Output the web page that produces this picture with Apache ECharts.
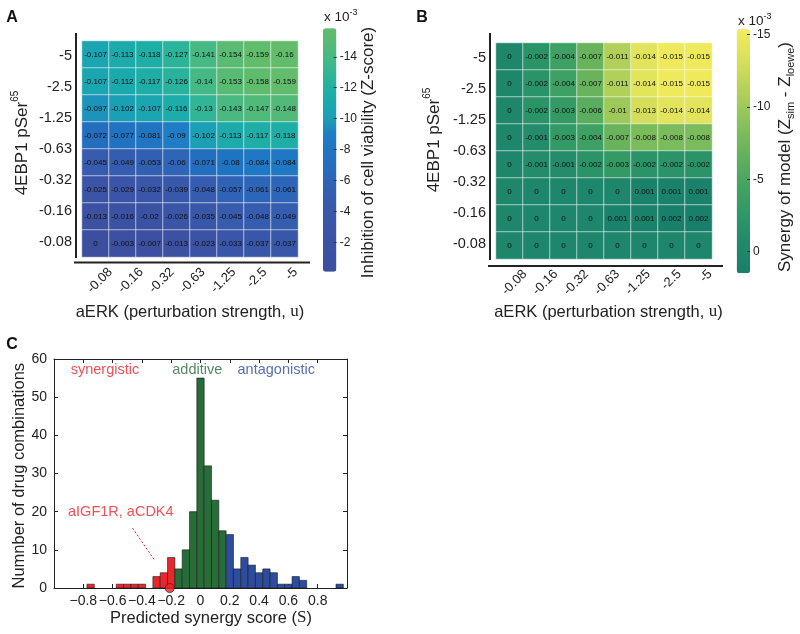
<!DOCTYPE html>
<html><head><meta charset="utf-8">
<script src="https://cdn.jsdelivr.net/npm/echarts@6/dist/echarts.min.js"></script>
<style>html,body{margin:0;padding:0;background:#fff}#c{width:800px;height:634px}</style>
</head><body><div id="c"></div>
<script>
// ---------------- data ----------------
const tickLabels = ['-0.08', '-0.16', '-0.32', '-0.63', '-1.25', '-2.5', '-5'];
const cellIndex = ['1', '2', '3', '4', '5', '6', '7', '8'];

// rows top (-5) to bottom (-0.08), columns left to right
const viabilityRows = [
  [-0.107, -0.113, -0.118, -0.127, -0.141, -0.154, -0.159, -0.16],
  [-0.107, -0.112, -0.117, -0.126, -0.14, -0.153, -0.158, -0.159],
  [-0.097, -0.102, -0.107, -0.116, -0.13, -0.143, -0.147, -0.148],
  [-0.072, -0.077, -0.081, -0.09, -0.102, -0.113, -0.117, -0.118],
  [-0.045, -0.049, -0.053, -0.06, -0.071, -0.08, -0.084, -0.084],
  [-0.025, -0.029, -0.032, -0.039, -0.048, -0.057, -0.061, -0.061],
  [-0.013, -0.016, -0.02, -0.026, -0.035, -0.045, -0.048, -0.049],
  [0, -0.003, -0.007, -0.013, -0.023, -0.033, -0.037, -0.037]
];
const synergyRows = [
  [0, -0.002, -0.004, -0.007, -0.011, -0.014, -0.015, -0.015],
  [0, -0.002, -0.004, -0.007, -0.011, -0.014, -0.015, -0.015],
  [0, -0.002, -0.003, -0.006, -0.01, -0.013, -0.014, -0.014],
  [0, -0.001, -0.003, -0.004, -0.007, -0.008, -0.008, -0.008],
  [0, -0.001, -0.001, -0.002, -0.003, -0.002, -0.002, -0.002],
  [0, 0, 0, 0, 0, 0.001, 0.001, 0.001],
  [0, 0, 0, 0, 0.001, 0.001, 0.002, 0.002],
  [0, 0, 0, 0, 0, 0, 0, 0]
];
// colour-bar scales (x 10^-3)
const cbARange = [-15.84, -0.1];
const cbBRange = [-15.35, 1.49];

const binWidth = 0.05;
const synergisticCenters = [-0.75, -0.55, -0.5, -0.45, -0.4, -0.3, -0.25, -0.2];
const synergisticCounts  = [1, 1, 1, 1, 1, 3, 4, 8];
const additiveCenters = [-0.15, -0.1, -0.05, 0, 0.05, 0.1, 0.15];
const additiveCounts  = [5, 10, 20, 55, 32, 23, 15];
const antagonisticCenters = [0.2, 0.25, 0.3, 0.35, 0.4, 0.45, 0.5, 0.55, 0.6, 0.65, 0.7, 0.95];
const antagonisticCounts  = [14, 5, 8, 6, 4, 5, 4, 1, 1, 3, 2, 1];
const highlightPoint = [-0.21, 0];
const highlightLeader = [[-0.464, 15.7], [-0.311, 7.15]];

// ---------------- styling ----------------
const FONT = "'Liberation Sans', Arial, Helvetica, sans-serif";
const SERIF = "'Liberation Serif', 'Times New Roman', serif";
const INK = '#222';
const RED = '#e8262b', GREEN = '#276d37', BLUE = '#2d4b9f';
const colorsA = ['#62bc6b','#55ba76','#45b985','#30b596','#1fb0a4','#1aa8ae','#1b9db6','#1e7dc4',
                 '#1f74c2','#256dbe','#2e65b7','#355db0','#3858aa','#3a55a7','#3b52a4','#3c50a1','#3d4e9f'];
const colorsB = ['#f3ec5c','#d8e05a','#b3d159','#8cc25a','#68b35c','#48a562','#309867','#21896b','#18806a'];

function heatData(rows) {
  const d = [];
  rows.forEach((r, ri) => r.forEach((v, ci) => d.push([ci, ri, v])));
  return d;
}
function pairs(xs, ys) { return xs.map((x, i) => [x, ys[i]]); }

const hiddenCat = (grid, inverse) => ({type: 'category', gridIndex: grid, data: cellIndex, show: false, inverse: !!inverse});
const hiddenVal = (grid) => ({type: 'value', gridIndex: grid, show: false, min: 0, max: 1});

function histSeries(centers, counts, color) {
  return {
    type: 'custom', xAxisIndex: 6, yAxisIndex: 8, z: 3,
    data: pairs(centers, counts),
    encode: {x: 0, y: 1},
    renderItem: (params, api) => {
      const c = api.value(0), n = api.value(1);
      const p0 = api.coord([c - binWidth / 2, n]);
      const p1 = api.coord([c + binWidth / 2, 0]);
      return {type: 'rect', shape: {x: p0[0], y: p0[1], width: p1[0] - p0[0], height: p1[1] - p0[1]},
              style: {fill: color, stroke: '#1a1a1a', lineWidth: 0.6}};
    }
  };
}

const heatLabel = {show: true, fontSize: 8, color: '#111', fontFamily: FONT, formatter: p => String(p.value[2])};
const cellBorder = {borderColor: 'rgba(255,255,255,0.55)', borderWidth: 1};

const catLabelX = (grid) => ({
  type: 'category', gridIndex: grid, data: tickLabels, boundaryGap: true,
  axisLine: {show: false}, axisTick: {show: false}, splitLine: {show: false},
  axisLabel: {interval: 0, rotate: 45, margin: 13, fontSize: 13, color: INK, fontFamily: FONT}
});
const catLabelY = (grid) => ({
  type: 'category', gridIndex: grid, data: tickLabels, boundaryGap: true, position: 'left',
  axisLine: {show: false}, axisTick: {show: false}, splitLine: {show: false},
  axisLabel: {interval: 0, margin: 10, fontSize: 14.5, color: INK, fontFamily: FONT}
});
// colour-bar axis: a 3px-wide grid on the bar's right edge; its split lines act as the inward ticks
const cbAxis = (grid, range, splitNumber) => ({
  type: 'value', gridIndex: grid, position: 'right', min: range[0], max: range[1], inverse: true, z: 10,
  splitNumber: splitNumber,
  axisLine: {show: false}, axisTick: {show: false},
  splitLine: {show: true, showMinLine: false, showMaxLine: false, lineStyle: {color: '#333', width: 1}},
  axisLabel: {margin: 3, fontSize: 12, color: INK, fontFamily: FONT, showMinLabel: false, showMaxLabel: false,
              formatter: v => (Math.abs(v - Math.round(v)) > 1e-6 ? '' : String(Math.round(v)))}
});

const cMinus = v => {
  if (Math.abs(v) > 0.95) return '';
  const r = Math.round(v * 10) / 10;
  if (r === 0) return '0';
  return (r < 0 ? '\u2212' : '') + Math.abs(r).toFixed(1);
};

const rot = Math.PI / 2;
function txt(x, y, text, opts) {
  opts = opts || {};
  return {
    type: 'text', x: x, y: y, rotation: opts.rotation || 0, z: 20,
    style: {
      text: text, fill: opts.fill || INK, fontSize: opts.fontSize || 16, fontFamily: FONT,
      fontWeight: opts.fontWeight || 'normal', align: opts.align || 'center', verticalAlign: 'middle',
      rich: opts.rich
    }
  };
}
const line = (x1, y1, x2, y2) => ({type: 'line', z: 20, shape: {x1, y1, x2, y2}, style: {stroke: '#222', lineWidth: 2}});

const boxAxis = (pos, extra) => Object.assign({
  type: 'value', gridIndex: 6, position: pos,
  axisLine: {show: true, onZero: false, lineStyle: {color: INK, width: 1}},
  axisTick: {show: true, inside: true, length: 4, lineStyle: {color: INK}},
  splitLine: {show: false}
}, extra);

const option = {
  animation: false,
  textStyle: {fontFamily: FONT},
  grid: [
    {left: 82, top: 41, width: 216, height: 216},
    {left: 95, top: 41, width: 216, height: 216},
    {left: 333.7, top: 28.3, width: 3, height: 243.4, z: 10},
    {left: 496, top: 43, width: 216, height: 216},
    {left: 509.5, top: 43, width: 216, height: 216},
    {left: 747, top: 29.3, width: 3, height: 244, z: 10},
    {left: 54, top: 359, width: 293, height: 229}
  ],
  xAxis: [
    hiddenCat(0),
    catLabelX(1),
    hiddenVal(2),
    hiddenCat(3),
    catLabelX(4),
    hiddenVal(5),
    boxAxis('bottom', {min: -1, max: 1, interval: 0.2,
      axisLabel: {margin: 6, fontSize: 14, color: INK, fontFamily: FONT, formatter: cMinus}}),
    boxAxis('top', {min: -1, max: 1, interval: 0.2, axisLabel: {show: false}})
  ],
  yAxis: [
    hiddenCat(0, true),
    catLabelY(0),
    hiddenVal(1),
    cbAxis(2, cbARange, 8),
    hiddenCat(3, true),
    catLabelY(3),
    hiddenVal(4),
    cbAxis(5, cbBRange, 4),
    boxAxis('left', {min: 0, max: 60, interval: 10,
      axisLabel: {margin: 7, fontSize: 14, color: INK, fontFamily: FONT}}),
    boxAxis('right', {min: 0, max: 60, interval: 10, axisLabel: {show: false}})
  ],
  visualMap: [
    {type: 'continuous', seriesIndex: 0, dimension: 2, min: -0.16, max: 0, inverse: true, orient: 'vertical',
     left: 323, top: 28.3, itemWidth: 13.4, itemHeight: 243.4, padding: 0, calculable: false, hoverLink: false, z: 2,
     inRange: {color: colorsA}},
    {type: 'continuous', seriesIndex: 1, dimension: 2, min: -0.01535, max: 0.00149, inverse: true, orient: 'vertical',
     left: 736.7, top: 29.3, itemWidth: 13.3, itemHeight: 244, padding: 0, calculable: false, hoverLink: false, z: 2,
     inRange: {color: colorsB}}
  ],
  series: [
    {type: 'heatmap', xAxisIndex: 0, yAxisIndex: 0, data: heatData(viabilityRows),
     itemStyle: cellBorder, label: heatLabel, emphasis: {disabled: true}},
    {type: 'heatmap', xAxisIndex: 3, yAxisIndex: 4, data: heatData(synergyRows),
     itemStyle: cellBorder, label: heatLabel, emphasis: {disabled: true}},
    histSeries(synergisticCenters, synergisticCounts, RED),
    histSeries(additiveCenters, additiveCounts, GREEN),
    histSeries(antagonisticCenters, antagonisticCounts, BLUE),
    {type: 'line', xAxisIndex: 6, yAxisIndex: 8, data: highlightLeader, symbol: 'none', z: 4,
     lineStyle: {color: RED, width: 1, type: [2, 2]}},
    {type: 'scatter', xAxisIndex: 6, yAxisIndex: 8, data: [highlightPoint], symbol: 'circle', symbolSize: 9, z: 6, clip: false,
     itemStyle: {color: RED, borderColor: '#7a0f12', borderWidth: 1}},
    {type: 'scatter', xAxisIndex: 6, yAxisIndex: 8, symbolSize: 1, z: 6,
     itemStyle: {color: 'rgba(0,0,0,0)'},
     label: {show: true, position: 'inside', fontSize: 14.5, fontFamily: FONT, formatter: '{b}'},
     data: [
       {name: 'synergistic', value: [-0.652, 57.2], label: {color: RED}},
       {name: 'additive', value: [-0.022, 57.2], label: {color: GREEN}},
       {name: 'antagonistic', value: [0.517, 57.2], label: {color: BLUE}},
       {name: 'aIGF1R, aCDK4', value: [-0.544, 19.8], label: {color: RED}}
     ]}
  ],
  graphic: [
    txt(12, 17.5, 'A', {fontSize: 16, fontWeight: 'bold', fill: '#111'}),
    txt(422, 18, 'B', {fontSize: 16, fontWeight: 'bold', fill: '#111'}),
    txt(12, 345, 'C', {fontSize: 16, fontWeight: 'bold', fill: '#111'}),
    line(76, 33, 76, 258), line(74, 262.5, 310, 262.5),
    line(490, 33, 490, 260), line(488, 266, 723, 266),
    txt(22, 143, '{m|4EBP1 pSer}{sup|65}', {rotation: rot, rich: {
      m: {fontSize: 17, fontFamily: FONT, lineHeight: 24, fill: INK},
      sup: {fontSize: 10, fontFamily: FONT, verticalAlign: 'top', fill: INK}}}),
    txt(434, 140, '{m|4EBP1 pSer}{sup|65}', {rotation: rot, rich: {
      m: {fontSize: 17, fontFamily: FONT, lineHeight: 24, fill: INK},
      sup: {fontSize: 10, fontFamily: FONT, verticalAlign: 'top', fill: INK}}}),
    txt(190, 312, '{m|aERK (perturbation strength, }{s|u}{m|)}', {rich: {
      m: {fontSize: 16.5, fontFamily: FONT, fill: INK}, s: {fontSize: 17, fontFamily: SERIF, fill: INK}}}),
    txt(608.5, 312, '{m|aERK (perturbation strength, }{s|u}{m|)}', {rich: {
      m: {fontSize: 16.5, fontFamily: FONT, fill: INK}, s: {fontSize: 17, fontFamily: SERIF, fill: INK}}}),
    txt(368.5, 152.5, 'Inhibition of cell viability (Z-score)', {rotation: rot, fontSize: 17}),
    txt(785, 157, '{m|Synergy of model (Z}{sub|sim}{m| - Z}{sub|loewe}{m|)}', {rotation: rot, rich: {
      m: {fontSize: 17, fontFamily: FONT, lineHeight: 22, fill: INK},
      sub: {fontSize: 11, fontFamily: FONT, verticalAlign: 'bottom', fill: INK}}}),
    txt(324, 17, '{m|x 10}{sup|-3}', {align: 'left', rich: {
      m: {fontSize: 13.5, fontFamily: FONT, lineHeight: 18, fill: INK},
      sup: {fontSize: 9, fontFamily: FONT, verticalAlign: 'top', fill: INK}}}),
    txt(738, 21, '{m|x 10}{sup|-3}', {align: 'left', rich: {
      m: {fontSize: 13.5, fontFamily: FONT, lineHeight: 18, fill: INK},
      sup: {fontSize: 9, fontFamily: FONT, verticalAlign: 'top', fill: INK}}}),
    txt(19, 475.7, 'Numnber of drug combinations', {rotation: rot, fontSize: 16.5}),
    txt(211, 618, '{m|Predicted synergy score (}{s|S}{m|)}', {rich: {
      m: {fontSize: 16.5, fontFamily: FONT, fill: INK}, s: {fontSize: 17, fontFamily: SERIF, fill: INK}}})
  ]
};

const chart = echarts.init(document.getElementById('c'), null, {renderer: 'canvas'});
chart.setOption(option);
</script>
</body></html>
